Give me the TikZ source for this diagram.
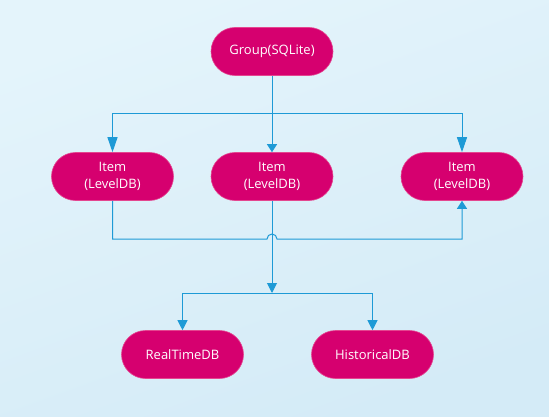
\documentclass[tikz,border=0pt]{standalone}
\usepackage{fontspec}
\setmainfont{Open Sans}
\usetikzlibrary{arrows.meta,calc}
\definecolor{bgtop}{HTML}{E4F4FB}
\definecolor{bgbot}{HTML}{D4EBF7}
\definecolor{nodefill}{HTML}{D6006F}
\definecolor{nodeedge}{HTML}{E4468F}
\definecolor{linec}{HTML}{1E9AD6}
\tikzset{
  dbnode/.style={rectangle, rounded corners=24pt, fill=nodefill, draw=nodeedge, line width=0.6pt,
    minimum width=122pt, minimum height=48pt, text=white, align=center,
    font=\fontsize{13}{17.5}\selectfont, inner sep=0pt},
  conn/.style={draw=linec, line width=1pt},
  tipL/.style={-{Triangle[length=15pt,width=10pt]}},
  tipM/.style={-{Triangle[length=10pt,width=10pt]}},
  tipS/.style={-{Triangle[length=8pt,width=10pt]}}
}
\begin{document}
\begin{tikzpicture}[x=1pt,y=-1pt]
\useasboundingbox (0,0) rectangle (549,417);
\shade[top color=bgtop, bottom color=bgbot, shading angle=20] (0,0) rectangle (549,417);
\node[dbnode] (g) at (272,51.5) {Group(SQLite)};
\node[dbnode] (i1) at (112.5,176.5) {Item\\(LevelDB)};
\node[dbnode] (i2) at (272,176.5) {Item\\(LevelDB)};
\node[dbnode] (i3) at (462,176.5) {Item\\(LevelDB)};
\node[dbnode] (rt) at (182.5,354.5) {RealTimeDB};
\node[dbnode] (hd) at (372.5,354.5) {HistoricalDB};
\coordinate (top) at (272,114);
\coordinate (jump) at (272,239);
\coordinate (bj) at (272,293);
\draw[conn,tipS] (g.south) -- (i2.north);
\draw[conn,tipL] (top) -| (i1.north);
\draw[conn,tipL] (top) -| (i3.north);
\draw[conn,tipS] (i1.south) |- ([xshift=-5pt]jump) arc[start angle=180,end angle=0,radius=5pt] -| (i3.south);
\draw[conn,tipM] (i2.south) -- (bj);
\draw[conn,tipM] (bj) -| (rt.north);
\draw[conn,tipM] (bj) -| (hd.north);
\end{tikzpicture}
\end{document}
